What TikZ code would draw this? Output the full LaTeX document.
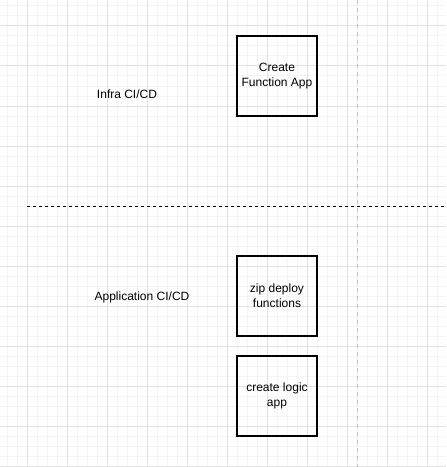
\documentclass[tikz,border=0pt]{standalone}
\usepackage{fontspec}
\setmainfont{Liberation Sans}
\begin{document}
\begin{tikzpicture}[x=0.75pt,y=-0.75pt,
  box/.style={draw=black, line width=0.9pt, minimum width=80*0.75pt, minimum height=80*0.75pt, align=center, inner sep=2pt, font=\fontsize{9}{11}\selectfont},
  lbl/.style={font=\fontsize{9}{11}\selectfont, inner sep=0pt},
  minorgrid/.style={draw={rgb,255:red,244;green,244;blue,244}, line width=0.75pt},
  majorgrid/.style={draw={rgb,255:red,226;green,226;blue,226}, line width=0.75pt}]
\useasboundingbox (0,0) rectangle (446,467);
\fill[white] (0,0) rectangle (446,467);
% grid
\foreach \i in {0,...,44} { \draw[minorgrid] (7+10*\i,0) -- (7+10*\i,467); }
\foreach \i in {0,...,46} { \draw[minorgrid] (0,6+10*\i) -- (446,6+10*\i); }
\foreach \i in {0,...,10} { \draw[majorgrid] (27+40*\i,0) -- (27+40*\i,467); }
\foreach \i in {0,...,11} { \draw[majorgrid] (0,26+40*\i) -- (446,26+40*\i); }
% separators
\coordinate (vtop) at (357,0);
\coordinate (vbot) at (357,467);
\draw[draw={rgb,255:red,190;green,190;blue,190}, line width=0.75pt, dash pattern=on 3pt off 3pt] (vtop) -- (vbot);
\coordinate (hl) at (27,206);
\coordinate (hr) at (446,206);
\draw[black, line width=0.75pt, dash pattern=on 2.25pt off 2.25pt] (hl) -- (hr);
% boxes
\node[box] (cfa) at (277,76) {Create\\Function App};
\node[box] (zip) at (277,296) {zip deploy\\functions};
\node[box] (logic) at (277,396) {create logic\\app};
% labels
\node[lbl] (infra) at (127,94) {Infra CI/CD};
\node[lbl] (appl) at (142,297) {Application CI/CD};
\end{tikzpicture}
\end{document}
